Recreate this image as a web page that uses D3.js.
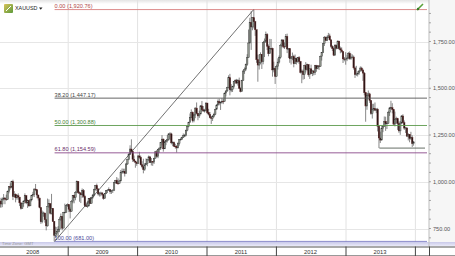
<!DOCTYPE html>
<meta charset="utf-8">
<style>
    body { margin: 0; background: #fff; }
    svg { display: block; font-family: "Liberation Sans", Arial, sans-serif; }
</style>
<script src="https://cdn.jsdelivr.net/npm/d3@7"></script>
<svg width="455" height="256"></svg>
<script>
    // weekly candles for XAUUSD, [close, high, low] ; open = previous close
    var firstOpen = 834;
    var w2008 = [[864,866,834],[897,900,855],[881,914,861],[907,916,864],[913,934,900],[907,918,880],[905,931,898],[947,953,902],[973,976,938],
        [971,992,958],[1001,1005,965],[921,1011,902],[933,950,918],[914,938,890],[925,934,904],[918,938,904],[887,918,870],
        [858,891,851],[883,886,855],[897,900,866],[926,938,893],[887,928,880],[899,905,860],[871,899,866],[903,906,870],[928,930,895],
        [932,946,920],[961,964,918],[957,988,950],[929,958,912],[913,931,900],[862,915,858],[786,864,775],[833,846,778],[833,840,813],
        [797,834,781],[764,798,740],[868,910,760],[883,906,860],[832,885,825],[858,935,825],[788,858,785],[714,790,681],[723,760,700],
        [733,758,704],[746,763,710],[799,810,730],[815,830,790],[752,780,740],[837,839,752],[837,883,830],[872,876,835]];
    var w2009 = [[878,884,866],[853,880,838],[842,862,804],[895,902,840],[928,929,885],[915,931,885],[941,950,901],[1002,1007,942],[942,1000,936],
        [940,948,893],[930,931,886],[953,964,913],[922,961,915],[872,930,866],[869,890,865],[870,898,861],[912,913,871],
        [884,915,881],[915,919,884],[929,935,909],[958,963,922],[980,983,953],[962,990,949],[935,962,926],[937,945,921],[940,947,922],
        [933,945,925],[911,933,904],[937,940,910],[953,955,934],[955,960,940],[958,970,952],[947,960,935],[953,955,935],[955,960,940],
        [996,1000,950],[1007,1010,990],[991,1025,988],[990,1018,987],[1004,1010,990],[1050,1063,1003],[1053,1071,1042],[1056,1070,1045],[1045,1070,1028],
        [1095,1101,1045],[1118,1120,1090],[1146,1153,1115],[1175,1195,1145],[1162,1227,1160],[1120,1166,1106],[1111,1140,1105],[1104,1112,1075]];
    var w2010 = [[1097,1105,1085],[1138,1140,1095],[1131,1160,1123],[1091,1140,1087],[1081,1110,1072],[1065,1123,1045],[1090,1100,1058],[1096,1125,1090],[1118,1120,1083],
        [1133,1140,1111],[1102,1138,1100],[1108,1127,1087],[1105,1110,1085],[1126,1128,1095],[1160,1165,1124],[1136,1170,1130],[1174,1176,1126],[1180,1183,1155],
        [1209,1212,1170],[1228,1249,1195],[1176,1231,1161],[1213,1218,1176],[1219,1223,1196],[1227,1250,1210],[1256,1260,1220],[1256,1265,1224],
        [1208,1262,1200],[1210,1216,1190],[1190,1215,1187],[1189,1203,1177],[1181,1196,1156],[1204,1211,1179],[1226,1227,1193],[1227,1236,1220],[1236,1241,1224],
        [1246,1258,1234],[1246,1256,1241],[1276,1278,1243],[1297,1300,1270],[1318,1321,1291],[1345,1365,1315],[1371,1387,1340],[1326,1376,1317],[1357,1362,1318],
        [1394,1398,1340],[1366,1424,1362],[1352,1364,1329],[1362,1380,1341],[1406,1410,1362],[1385,1432,1375],[1379,1405,1374],[1380,1390,1370],[1421,1424,1378]];
    var w2011 = [[1369,1421,1362],[1361,1390,1354],[1343,1373,1339],[1339,1352,1309],[1349,1357,1325],[1361,1369,1344],[1388,1390,1356],[1410,1415,1385],
        [1429,1440,1408],[1421,1444,1409],[1426,1428,1384],[1430,1447,1418],[1429,1442,1415],[1474,1477,1428],[1486,1487,1456],[1505,1508,1480],[1556,1569,1500],
        [1492,1577,1462],[1493,1522,1479],[1508,1513,1480],[1536,1539,1500],[1542,1548,1524],[1528,1550,1522],[1540,1549,1514],[1500,1557,1497],
        [1483,1505,1478],[1542,1545,1482],[1592,1597,1540],[1602,1611,1577],[1628,1632,1594],[1663,1682,1620],[1742,1814,1680],[1852,1877,1740],[1828,1912,1705],
        [1877,1881,1810],[1856,1921,1820],[1813,1860,1780],[1653,1806,1636],[1624,1680,1535],[1636,1680,1600],[1682,1692,1628],[1642,1681,1603],[1744,1747,1628],
        [1752,1766,1667],[1788,1803,1742],[1725,1795,1704],[1685,1734,1671],[1713,1764,1684],[1713,1763,1705],[1598,1717,1562],[1606,1642,1585],[1564,1616,1523]];
    var w2012 = [[1617,1626,1562],[1640,1660,1600],[1665,1675,1632],[1730,1738,1658],[1758,1763,1719],[1723,1762,1714],[1722,1745,1710],[1777,1790,1723],
        [1710,1792,1688],[1712,1715,1662],[1658,1715,1636],[1662,1670,1627],[1669,1691,1650],[1631,1679,1612],[1660,1680,1629],[1642,1663,1627],[1663,1667,1636],
        [1643,1672,1630],[1585,1646,1579],[1592,1600,1527],[1573,1600,1546],[1621,1626,1549],[1599,1640,1584],[1627,1632,1593],[1572,1628,1562],[1604,1605,1550],
        [1579,1626,1576],[1592,1598,1565],[1584,1598,1569],[1621,1625,1571],[1605,1625,1588],[1620,1623,1602],[1616,1620,1598],[1671,1675,1615],[1691,1694,1648],
        [1739,1741,1688],[1773,1779,1726],[1756,1777,1753],[1772,1781,1752],[1780,1796,1768],[1759,1792,1755],[1724,1762,1716],[1712,1730,1699],
        [1677,1718,1672],[1730,1737,1675],[1714,1734,1708],[1752,1756,1712],[1712,1754,1706],[1705,1723,1687],[1697,1719,1690],[1657,1697,1635],[1656,1667,1644]];
    var w2013 = [[1656,1693,1626],[1662,1679,1645],[1687,1694,1655],[1658,1697,1652],[1667,1685,1652],[1667,1681,1660],[1609,1675,1600],[1573,1616,1555],
        [1576,1620,1565],[1580,1591,1563],[1592,1597,1571],[1608,1617,1590],[1597,1615,1590],[1581,1604,1539],[1476,1587,1462],[1405,1478,1321],[1462,1476,1385],
        [1470,1488,1454],[1435,1476,1422],[1365,1435,1358],[1386,1417,1338],[1391,1417,1377],[1383,1424,1378],[1388,1394,1367],[1297,1395,1269],[1234,1300,1180],
        [1223,1268,1207],[1284,1298,1221],[1295,1298,1265],[1322,1349,1299],[1310,1348,1272],[1313,1324,1282],[1371,1379,1310],[1395,1400,1352],[1396,1433,1388],
        [1386,1420,1366],[1308,1390,1305],[1333,1375,1296],[1337,1348,1310],[1311,1342,1277],[1272,1323,1262],[1314,1325,1251],[1352,1356,1309],
        [1316,1361,1311],[1287,1328,1277],[1288,1293,1261],[1244,1290,1239],[1253,1260,1221],[1231,1251,1211],[1237,1267,1224],[1204,1248,1186],[1213,1218,1193]];

    var years = [2008, 2009, 2010, 2011, 2012, 2013];
    var priceTicks = [750, 1000, 1250, 1500, 1750];

    // fibonacci retracement between the 2008 low and the 2011 high
    var fibLow = { date: new Date(2008, 9, 24), price: 681.00 };
    var fibHigh = { date: new Date(2011, 8, 6), price: 1920.76 };
    var fibLevels = [0, 38.2, 50, 61.8, 100];
    var fibColors = ["#d98080", "#555555", "#5c9a4c", "#8a4a8a", "#7c7cc4"];
    var fibText = ["#b04848", "#444444", "#3f7f33", "#6a2f6a", "#4a4a9a"];
    var support = { date: new Date(2013, 5, 28), price: 1180 };

    var svg = d3.select("svg");
    var W = 455, H = 256, plotR = 429, axisTop = 246.5;

    var x = d3.scaleTime()
        .domain([new Date(2009, 0, 1), new Date(2013, 0, 1)])
        .range([67.7, 345.5]);
    var y = d3.scaleLinear().domain([750, 1750]).range([228.5, 41.5]);

    // build candles
    var weeks = [].concat(w2008, w2009, w2010, w2011, w2012, w2013);
    var start = new Date(2007, 11, 31);
    var prev = firstOpen;
    var candles = weeks.map(function (w, i) {
        var c = { date: d3.timeDay.offset(d3.timeMonday.offset(start, i), 2), open: prev, close: w[0] };
        c.high = Math.max(w[1], c.open, c.close);
        c.low = Math.min(w[2], c.open, c.close);
        prev = w[0];
        return c;
    });

    // backgrounds
    svg.append("rect").attr("width", W).attr("height", H).attr("fill", "#fff");
    svg.append("rect").attr("x", plotR).attr("width", W - plotR).attr("height", axisTop).attr("fill", "#f6f6f6");
    var defs = svg.append("defs");
    var grad = defs.append("linearGradient").attr("id", "top").attr("x1", 0).attr("y1", 0).attr("x2", 0).attr("y2", 1);
    grad.append("stop").attr("offset", 0).attr("stop-color", "#e4e4e4");
    grad.append("stop").attr("offset", 1).attr("stop-color", "#ffffff");
    svg.append("rect").attr("width", plotR).attr("height", 4).attr("fill", "url(#top)");

    // grid
    var yearStarts = years.slice(1).map(function (d) { return new Date(d, 0, 1); }).concat([new Date(2014, 0, 1)]);
    svg.append("g").selectAll("line").data(yearStarts).enter().append("line")
        .attr("x1", function (d) { return x(d) + 0.5; }).attr("x2", function (d) { return x(d) + 0.5; })
        .attr("y1", 0).attr("y2", 242).attr("stroke", "#e2e2e2").attr("stroke-width", 1);
    svg.append("g").selectAll("line").data(priceTicks).enter().append("line")
        .attr("x1", 0).attr("x2", plotR)
        .attr("y1", function (d) { return Math.round(y(d)) + 0.5; }).attr("y2", function (d) { return Math.round(y(d)) + 0.5; })
        .attr("stroke", "#e6e6e6");

    // lavender band above the date axis
    var band = defs.append("linearGradient").attr("id", "band").attr("x1", 0).attr("y1", 0).attr("x2", 0).attr("y2", 1);
    band.append("stop").attr("offset", 0).attr("stop-color", "#c9c9ea");
    band.append("stop").attr("offset", 1).attr("stop-color", "#eeeefa");
    svg.append("rect").attr("x", 0).attr("y", 242).attr("width", W).attr("height", 4.5).attr("fill", "url(#band)");

    // candles
    var cw = 1.5;
    var cg = svg.append("g");
    cg.selectAll("line").data(candles).enter().append("line")
        .attr("x1", function (d) { return x(d.date); }).attr("x2", function (d) { return x(d.date); })
        .attr("y1", function (d) { return y(d.high); }).attr("y2", function (d) { return y(d.low); })
        .attr("stroke", "#555").attr("stroke-width", 0.7);
    cg.selectAll("rect").data(candles).enter().append("rect")
        .attr("x", function (d) { return x(d.date) - cw / 2; })
        .attr("width", cw)
        .attr("y", function (d) { return y(Math.max(d.open, d.close)); })
        .attr("height", function (d) { return Math.max(0.6, Math.abs(y(d.open) - y(d.close))); })
        .attr("fill", function (d) { return d.close >= d.open ? "#8f968c" : "#2a1515"; })
        .attr("stroke", function (d) { return d.close >= d.open ? "#333" : "#5a2424"; })
        .attr("stroke-width", 0.4);

    // fibonacci lines & labels
    var fx = x(fibLow.date);
    var fib = svg.append("g");
    fibLevels.forEach(function (lv, i) {
        var price = fibHigh.price - (fibHigh.price - fibLow.price) * lv / 100;
        var yy = y(price);
        fib.append("line").attr("x1", fx).attr("x2", 427).attr("y1", yy).attr("y2", yy)
            .attr("stroke", fibColors[i]).attr("stroke-width", 0.9);
        fib.append("text").attr("x", fx).attr("y", yy - 1.4)
            .attr("font-size", 5.6).attr("fill", fibText[i])
            .text(d3.format(".2f")(lv) + " (" + d3.format(",.2f")(price) + ")");
    });

    // trend line low -> high
    svg.append("line")
        .attr("x1", x(fibLow.date)).attr("y1", y(fibLow.price))
        .attr("x2", x(fibHigh.date)).attr("y2", y(fibHigh.price))
        .attr("stroke", "#333").attr("stroke-width", 0.7);

    // support line from the 2013 low
    svg.append("line")
        .attr("x1", x(support.date)).attr("x2", 425)
        .attr("y1", y(support.price)).attr("y2", y(support.price))
        .attr("stroke", "#3f4a3f").attr("stroke-width", 0.8);

    // right price axis
    var ax = svg.append("g").attr("transform", "translate(" + plotR + ",0)");
    ax.append("line").attr("y1", 0).attr("y2", axisTop).attr("stroke", "#bdbdbd");
    ax.selectAll(".minor").data(d3.range(700, 1950, 50)).enter().append("line")
        .attr("x1", 0).attr("x2", 2)
        .attr("y1", function (d) { return y(d); }).attr("y2", function (d) { return y(d); })
        .attr("stroke", "#777").attr("stroke-width", 0.6);
    ax.selectAll("text").data(priceTicks).enter().append("text")
        .attr("x", 4).attr("y", function (d) { return y(d) + 2; })
        .attr("font-size", 5.6).attr("fill", "#555")
        .text(d3.format(",.2f"));

    // bottom date axis
    svg.append("rect").attr("x", 0).attr("y", axisTop).attr("width", W).attr("height", H - axisTop).attr("fill", "#fff");
    svg.append("line").attr("x1", 0).attr("x2", W).attr("y1", axisTop + 0.5).attr("y2", axisTop + 0.5).attr("stroke", "#555").attr("stroke-width", 1);
    svg.append("line").attr("x1", 0).attr("x2", W).attr("y1", 255.5).attr("y2", 255.5).attr("stroke", "#999");
    svg.append("g").selectAll("line").data(yearStarts).enter().append("line")
        .attr("x1", function (d) { return x(d) + 0.5; }).attr("x2", function (d) { return x(d) + 0.5; })
        .attr("y1", axisTop).attr("y2", 256).attr("stroke", "#444");
    svg.append("line").attr("x1", plotR + 0.5).attr("x2", plotR + 0.5).attr("y1", axisTop).attr("y2", 256).attr("stroke", "#444");
    svg.append("g").selectAll("text").data(years).enter().append("text")
        .attr("x", function (d) { return x(new Date(d, 6, 1)); }).attr("y", 253.8)
        .attr("text-anchor", "middle").attr("font-size", 5.8).attr("fill", "#333")
        .text(function (d) { return d; });

    svg.append("text").attr("x", 2).attr("y", 244.6).attr("font-size", 4.2).attr("fill", "#999").text("Time Zone: GMT");

    // symbol header
    var ig = defs.append("linearGradient").attr("id", "ico").attr("x1", 0).attr("y1", 0).attr("x2", 1).attr("y2", 1);
    ig.append("stop").attr("offset", 0).attr("stop-color", "#d9c25a");
    ig.append("stop").attr("offset", 1).attr("stop-color", "#5a9a3a");
    svg.append("rect").attr("x", 4).attr("y", 4).attr("width", 9).attr("height", 9).attr("rx", 1).attr("fill", "url(#ico)");
    svg.append("line").attr("x1", 6).attr("y1", 11).attr("x2", 11).attr("y2", 6).attr("stroke", "#fff").attr("stroke-width", 1);
    svg.append("text").attr("x", 15).attr("y", 10.3).attr("font-size", 5.4).attr("fill", "#222").text("XAUUSD");
    svg.append("path").attr("d", "M39,7.5 L42.5,7.5 L40.75,9.8 Z").attr("fill", "#222");

    // drawing tool icon top-right
    svg.append("line").attr("x1", 417).attr("y1", 10).attr("x2", 423).attr("y2", 4).attr("stroke", "#5aa03a").attr("stroke-width", 1.6);
    svg.append("circle").attr("cx", 418).attr("cy", 9).attr("r", 1.2).attr("fill", "#3a7a2a");
</script>
